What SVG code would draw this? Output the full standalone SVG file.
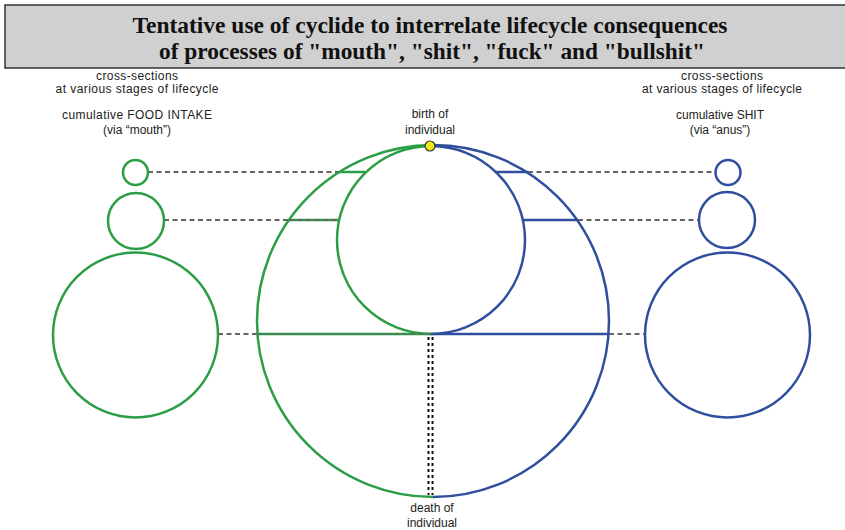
<svg xmlns="http://www.w3.org/2000/svg" width="845" height="530" viewBox="0 0 845 530">
<style>
.t{font-family:"Liberation Serif","Times New Roman",serif;font-weight:bold;font-size:24px;fill:#111;text-anchor:middle}
.l{font-family:"Liberation Sans",Arial,sans-serif;font-size:12px;fill:#222;text-anchor:middle}
.g{fill:none;stroke:#2a9d45;stroke-width:2.5}
.b{fill:none;stroke:#2f4f9e;stroke-width:2.5}
.d{fill:none;stroke:#666;stroke-width:2;stroke-dasharray:5 3.5}
.v{fill:none;stroke:#111;stroke-width:2;stroke-dasharray:3 3}
</style>
<rect x="0" y="0" width="845" height="530" fill="#fff"/>
<g id="header">
<rect x="5" y="5" width="845" height="63" fill="#d0d0d0" stroke="#333" stroke-width="1.5"/>
<text class="t" x="430" y="33" textLength="595" lengthAdjust="spacingAndGlyphs">Tentative use of cyclide to interrelate lifecycle consequences</text>
<text class="t" x="432" y="59" textLength="546" lengthAdjust="spacingAndGlyphs">of processes of "mouth", "shit", "fuck" and "bullshit"</text>
</g>
<g id="connectors">
<line class="d" x1="148" y1="172" x2="340" y2="172"/>
<line class="d" x1="528" y1="172" x2="715" y2="172"/>
<line class="d" x1="164" y1="220" x2="289" y2="220"/>
<line class="d" x1="578" y1="220" x2="699" y2="220"/>
<line class="d" x1="218" y1="334" x2="257" y2="334"/>
<line class="d" x1="609" y1="334" x2="645" y2="334"/>
<line class="v" x1="428.5" y1="337" x2="428.5" y2="495"/>
<line class="v" x1="432.5" y1="337" x2="432.5" y2="495"/>
</g>
<g id="cyclide">
<path class="g" d="M433 145 A176 176 0 0 0 433 497"/>
<path class="b" d="M433 145 A176 176 0 0 1 433 497"/>
<path class="g" d="M431 146 A94 94 0 0 0 431 334"/>
<path class="b" d="M431 146 A94 94 0 0 1 431 334"/>
<line class="g" x1="340" y1="172" x2="365" y2="172"/>
<line class="b" x1="495" y1="172" x2="528" y2="172"/>
<line class="g" x1="289" y1="220" x2="339" y2="220"/>
<line class="d" x1="289" y1="220" x2="339" y2="220"/>
<line class="b" x1="523" y1="220" x2="578" y2="220"/>
<line class="g" x1="257" y1="334" x2="431" y2="334"/>
<line class="d" x1="257" y1="334" x2="431" y2="334" stroke-opacity="0.6"/>
<line class="b" x1="431" y1="334" x2="609" y2="334"/>
</g>
<g id="birth">
<circle cx="430" cy="146" r="5" fill="#f2e616" stroke="#333" stroke-width="1.2"/>
<text class="l" x="430" y="118">birth of</text>
<text class="l" x="430" y="134">individual</text>
</g>
<g id="death">
<text class="l" x="432" y="512">death of</text>
<text class="l" x="432" y="527">individual</text>
</g>
<g id="food-intake">
<text class="l" x="137" y="80" textLength="82">cross-sections</text>
<text class="l" x="137" y="93" textLength="163">at various  stages of lifecycle</text>
<text class="l" x="137" y="119" textLength="150">cumulative  FOOD INTAKE</text>
<text class="l" x="137" y="134">(via “mouth”)</text>
<circle class="g" cx="135.5" cy="172.5" r="12.5"/>
<circle class="g" cx="136" cy="221" r="28"/>
<circle class="g" cx="135.5" cy="335" r="82.5"/>
</g>
<g id="shit">
<text class="l" x="722" y="80" textLength="82">cross-sections</text>
<text class="l" x="722" y="93" textLength="160">at various stages of lifecycle</text>
<text class="l" x="720" y="119">cumulative SHIT</text>
<text class="l" x="720" y="134">(via “anus”)</text>
<circle class="b" cx="728" cy="172.5" r="12.5"/>
<circle class="b" cx="727" cy="220" r="28"/>
<circle class="b" cx="727.5" cy="335" r="82.5"/>
</g>
</svg>
